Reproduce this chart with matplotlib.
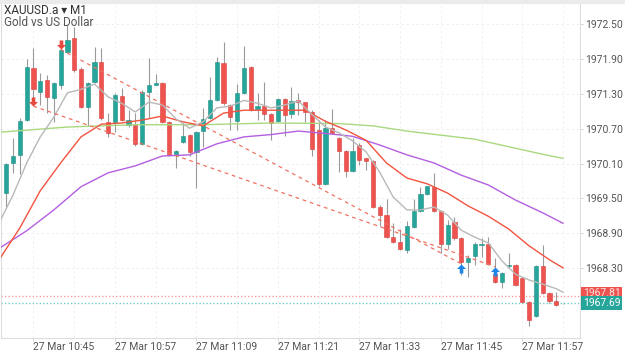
import numpy as np
import matplotlib
matplotlib.use("Agg")
import matplotlib.pyplot as plt
from matplotlib.path import Path
from matplotlib.patches import Rectangle

plt.rcParams['font.family'] = ['Roboto', 'DejaVu Sans']

# ---- data (XAUUSD.a, M1) ----
opens = [1969.59, 1970.11, 1970.25, 1970.85, 1971.75, 1971.33, 1971.54, 1971.23, 1971.45, 1972.02,
         1972.26, 1971.73, 1971.07, 1971.50, 1971.85, 1970.82, 1970.82, 1971.26, 1970.76, 1970.76,
         1970.44, 1971.33, 1971.46, 1971.49, 1970.82, 1970.26, 1970.47, 1970.59, 1970.30, 1970.66,
         1970.89, 1971.19, 1971.83, 1971.11, 1970.83, 1971.32, 1971.76, 1971.04, 1971.09, 1970.95,
         1970.83, 1971.21, 1970.95, 1971.19, 1971.16, 1970.99, 1970.68, 1969.75, 1970.71, 1970.54,
         1970.32, 1969.97, 1970.42, 1970.19, 1970.14, 1969.35, 1969.21, 1968.83, 1968.75, 1968.61,
         1969.01, 1969.28, 1969.57, 1969.70, 1969.28, 1968.71, 1969.09, 1968.82, 1968.40, 1968.50,
         1968.70, 1968.71, 1968.19, 1968.06, 1968.33, 1968.35, 1968.13, 1967.71, 1967.47, 1968.33,
         1967.87, 1967.73, 1967.69]
highs = [1970.11, 1970.54, 1970.89, 1971.90, 1972.09, 1971.66, 1971.63, 1971.50, 1972.09, 1972.49,
         1972.45, 1971.76, 1971.50, 1972.11, 1972.09, 1970.97, 1971.32, 1971.40, 1971.02, 1970.97,
         1971.37, 1971.92, 1971.64, 1971.50, 1970.83, 1970.33, 1970.80, 1970.61, 1970.66, 1971.06,
         1971.59, 1971.94, 1972.20, 1971.13, 1971.47, 1972.13, 1971.78, 1971.32, 1971.50, 1970.97,
         1971.23, 1971.23, 1971.42, 1971.32, 1971.17, 1971.02, 1970.85, 1970.85, 1971.04, 1970.56,
         1970.33, 1970.54, 1970.45, 1970.20, 1970.16, 1969.38, 1969.49, 1969.07, 1968.97, 1969.11,
         1969.49, 1969.70, 1969.72, 1969.94, 1969.29, 1969.13, 1969.18, 1968.83, 1968.52, 1968.75,
         1968.82, 1968.83, 1968.47, 1968.23, 1968.56, 1968.37, 1968.14, 1967.72, 1968.35, 1968.69,
         1967.89, 1967.89, 1967.69]
lows = [1969.33, 1969.94, 1969.92, 1970.83, 1971.19, 1971.11, 1970.97, 1970.82, 1971.38, 1972.00,
        1971.68, 1971.06, 1970.75, 1971.49, 1970.85, 1970.56, 1970.64, 1970.83, 1970.73, 1970.40,
        1970.42, 1970.89, 1971.45, 1970.80, 1970.23, 1970.02, 1970.45, 1970.23, 1969.68, 1970.38,
        1970.87, 1971.18, 1971.11, 1970.68, 1970.68, 1971.30, 1971.00, 1970.85, 1970.85, 1970.50,
        1970.82, 1970.57, 1970.88, 1970.94, 1970.82, 1970.23, 1969.71, 1969.73, 1970.61, 1969.95,
        1969.87, 1969.95, 1970.07, 1969.99, 1969.33, 1969.02, 1968.82, 1968.73, 1968.61, 1968.56,
        1968.99, 1969.26, 1969.56, 1969.26, 1968.56, 1968.63, 1968.78, 1968.18, 1968.14, 1968.35,
        1968.49, 1968.35, 1968.04, 1967.95, 1968.30, 1967.99, 1967.70, 1967.30, 1967.46, 1967.85,
        1967.70, 1967.65, 1967.68]
closes = [1970.09, 1970.23, 1970.83, 1971.76, 1971.39, 1971.52, 1971.25, 1971.49, 1972.06, 1972.23,
          1971.71, 1971.07, 1971.49, 1971.85, 1970.88, 1970.63, 1971.28, 1970.85, 1970.85, 1970.44,
          1971.33, 1971.45, 1971.49, 1970.82, 1970.25, 1970.32, 1970.57, 1970.30, 1970.64, 1970.87,
          1971.19, 1971.85, 1971.14, 1970.90, 1971.32, 1971.75, 1971.02, 1971.09, 1970.95, 1970.80,
          1971.21, 1970.94, 1971.18, 1971.16, 1970.99, 1970.35, 1969.75, 1970.71, 1970.63, 1970.32,
          1969.97, 1970.32, 1970.16, 1970.14, 1969.35, 1969.21, 1968.83, 1968.75, 1968.63, 1969.02,
          1969.28, 1969.57, 1969.71, 1969.28, 1968.71, 1969.04, 1968.82, 1968.40, 1968.47, 1968.71,
          1968.71, 1968.37, 1968.06, 1968.21, 1968.35, 1968.00, 1967.71, 1967.40, 1968.33, 1967.87,
          1967.73, 1967.66, 1967.69]

# moving averages at candle indices
ma_fast_idx = [-1, 1, 3, 5, 7, 9, 11, 13, 15, 17, 19, 21, 23, 25, 27, 29, 31, 33, 35, 37, 39,
               41, 43, 45, 47, 49, 51, 53, 55, 57, 59, 61, 63, 65, 67, 69, 71, 73, 75, 77, 79, 81, 82]
ma_fast = [1969.09, 1969.56, 1970.11, 1970.56, 1970.90, 1971.32, 1971.38, 1971.47, 1971.25, 1971.14,
           1970.99, 1971.16, 1971.11, 1970.87, 1970.71, 1970.82, 1971.06, 1971.09, 1971.19, 1971.14,
           1971.06, 1971.11, 1971.18, 1970.95, 1970.73, 1970.63, 1970.49, 1970.30, 1969.95, 1969.52,
           1969.30, 1969.30, 1969.35, 1969.21, 1968.95, 1968.83, 1968.73, 1968.42, 1968.19, 1968.09,
           1968.02, 1967.94, 1967.88]
ma_mid_idx = [-1, 2, 5, 8, 11, 14, 17, 20, 23, 26, 29, 32, 35, 38, 41, 44, 47, 50, 53, 56, 59,
              62, 65, 68, 71, 74, 77, 80, 82]
ma_mid = [1968.45, 1968.99, 1969.63, 1970.11, 1970.56, 1970.78, 1970.80, 1970.85, 1970.92, 1970.82,
          1970.75, 1970.97, 1971.02, 1971.02, 1971.02, 1971.02, 1970.83, 1970.68, 1970.50, 1970.11,
          1969.85, 1969.75, 1969.59, 1969.37, 1969.19, 1968.97, 1968.68, 1968.44, 1968.30]
ma_slow_idx = [-1, 3, 7, 11, 15, 19, 23, 27, 31, 35, 39, 43, 47, 51, 55, 59, 63, 67, 71, 75, 79, 82]
ma_slow = [1968.64, 1968.94, 1969.30, 1969.70, 1969.94, 1970.06, 1970.23, 1970.25, 1970.44, 1970.56,
           1970.60, 1970.66, 1970.62, 1970.57, 1970.42, 1970.25, 1970.11, 1969.90, 1969.73, 1969.47,
           1969.25, 1969.07]
ma_long_idx = [-1, 9, 19, 29, 39, 49, 54, 59, 69, 79, 82]
ma_long = [1970.64, 1970.73, 1970.77, 1970.77, 1970.80, 1970.79, 1970.75, 1970.66, 1970.52, 1970.26, 1970.19]

# trades: sell signals and buy signals, lines join sell -> buy
sell_idx = [4, 8]
sell_price = [1971.09, 1972.07]
buy_idx = [67, 72]
buy_price = [1968.37, 1968.32]
trade_pairs = [(1, 0), (0, 1)]   # (sell number, buy number)

ask, bid = 1967.81, 1967.69
yticks = [1968.30, 1968.90, 1969.50, 1970.10, 1970.70, 1971.30, 1971.90, 1972.50]
xtick_idx = [4, 16, 28, 40, 52, 64, 76]
xtick_labels = ['27 Mar 10:45', '27 Mar 10:57', '27 Mar 11:09', '27 Mar 11:21',
                '27 Mar 11:33', '27 Mar 11:45', '27 Mar 11:57']

UP, DOWN = '#26a69a', '#ef5350'

fig = plt.figure(figsize=(6.25, 3.52), dpi=100)
fig.patches.append(Rectangle((0, 1 - 3 / 352), 1, 3 / 352, transform=fig.transFigure,
                             color='#ebebeb', zorder=0))
ax = fig.add_axes([1 / 625, 14 / 352, 579 / 625, 335 / 352])

x = np.arange(len(opens))
o, h, l, c = map(np.array, (opens, highs, lows, closes))
up = c > o
dn = c < o
flat = ~(up | dn)

ax.vlines(x, l, h, color='#9a9a9a', lw=0.8, zorder=2)
body = np.maximum(np.abs(c - o), 0.012)
bottom = np.minimum(o, c)
ax.bar(x[up], body[up], bottom=bottom[up], width=0.62, color=UP, edgecolor='#1f8f84',
       lw=0.4, zorder=3)
ax.bar(x[dn], body[dn], bottom=bottom[dn], width=0.62, color=DOWN, edgecolor='#d9403d',
       lw=0.4, zorder=3)
ax.bar(x[flat], body[flat], bottom=bottom[flat], width=0.62, color='#555555', lw=0, zorder=3)

ax.plot(ma_long_idx, ma_long, color='#a9d97f', lw=1.0, zorder=4)
ax.plot(ma_slow_idx, ma_slow, color='#b45fe0', lw=1.0, zorder=4)
ax.plot(ma_mid_idx, ma_mid, color='#f2543f', lw=1.0, zorder=4)
ax.plot(ma_fast_idx, ma_fast, color='#b9b9b9', lw=1.0, zorder=4)

for s, b in trade_pairs:
    ax.plot([sell_idx[s], buy_idx[b]], [sell_price[s], buy_price[b]], color='#f07262',
            lw=0.9, ls=(0, (3, 3)), zorder=5)

down_arrow = Path([(0, 0), (-0.5, 0.5), (-0.2, 0.5), (-0.2, 1.0), (0.2, 1.0), (0.2, 0.5),
                   (0.5, 0.5), (0, 0)],
                  [Path.MOVETO] + [Path.LINETO] * 6 + [Path.CLOSEPOLY])
up_arrow = Path([(0, 0), (-0.5, -0.5), (-0.2, -0.5), (-0.2, -1.0), (0.2, -1.0), (0.2, -0.5),
                 (0.5, -0.5), (0, 0)],
                [Path.MOVETO] + [Path.LINETO] * 6 + [Path.CLOSEPOLY])
ax.plot(sell_idx, sell_price, ls='none', marker=down_arrow, ms=13, color='#e8473b',
        mec='none', zorder=6)
ax.plot(buy_idx, buy_price, ls='none', marker=up_arrow, ms=13, color='#1f85e8',
        mec='none', zorder=6)

ax.axhline(ask, color='#f3a39c', lw=1.0, ls=(0, (1, 1.5)), zorder=1)
ax.axhline(bid, color='#6fcac0', lw=1.0, ls=(0, (1, 1.5)), zorder=1)

ax.set_xlim(-0.78, 84.5)
ax.set_ylim(1967.09, 1972.87)

ax.yaxis.tick_right()
ax.set_yticks(yticks)
ax.set_yticklabels([f'{v:.2f}' for v in yticks])
ax.set_xticks(xtick_idx)
ax.set_xticklabels(xtick_labels, ha='left')
ax.set_xticks(np.arange(4, 83, 6), minor=True)
ax.tick_params(axis='y', length=2.5, width=0.6, color='#cccccc', pad=1, labelsize=7.5,
               labelcolor='#555555')
ax.tick_params(axis='x', which='major', length=2.5, width=0.6, color='#cccccc', pad=0.5,
               labelsize=7.5, labelcolor='#555555')
ax.tick_params(axis='x', which='minor', length=0)
ax.grid(axis='y', color='#ececec', lw=0.6, ls=(0, (3, 3)))
ax.grid(axis='x', which='both', color='#efefef', lw=0.6, ls=(0, (3, 3)))
ax.set_axisbelow(True)
for side in ('left', 'bottom', 'right'):
    ax.spines[side].set_color('#dddddd')
    ax.spines[side].set_linewidth(0.8)
ax.spines['top'].set_visible(False)

ax.annotate(f'{ask:.2f}', xy=(1, ask + 0.05), xycoords=('axes fraction', 'data'),
            xytext=(2, 0), textcoords='offset points', ha='left', va='center', fontsize=7.5,
            color='#fbe0de', bbox=dict(boxstyle='square,pad=0.15', fc='#ef5350', ec='none'),
            annotation_clip=False, zorder=7)
ax.annotate(f'{bid:.2f}', xy=(1, bid), xycoords=('axes fraction', 'data'),
            xytext=(2, 0), textcoords='offset points', ha='left', va='center', fontsize=7.5,
            color='white', bbox=dict(boxstyle='square,pad=0.2', fc='#26a69a', ec='none'),
            annotation_clip=False, zorder=8)

fig.text(4 / 625, 1 - 10 / 352, 'XAUUSD.a \u25be M1', fontsize=8.5, color='#333333', va='center')
fig.text(4 / 625, 1 - 23 / 352, 'Gold vs US Dollar', fontsize=8.5, color='#555555', va='center')

fig.savefig('out.png', dpi=100)
